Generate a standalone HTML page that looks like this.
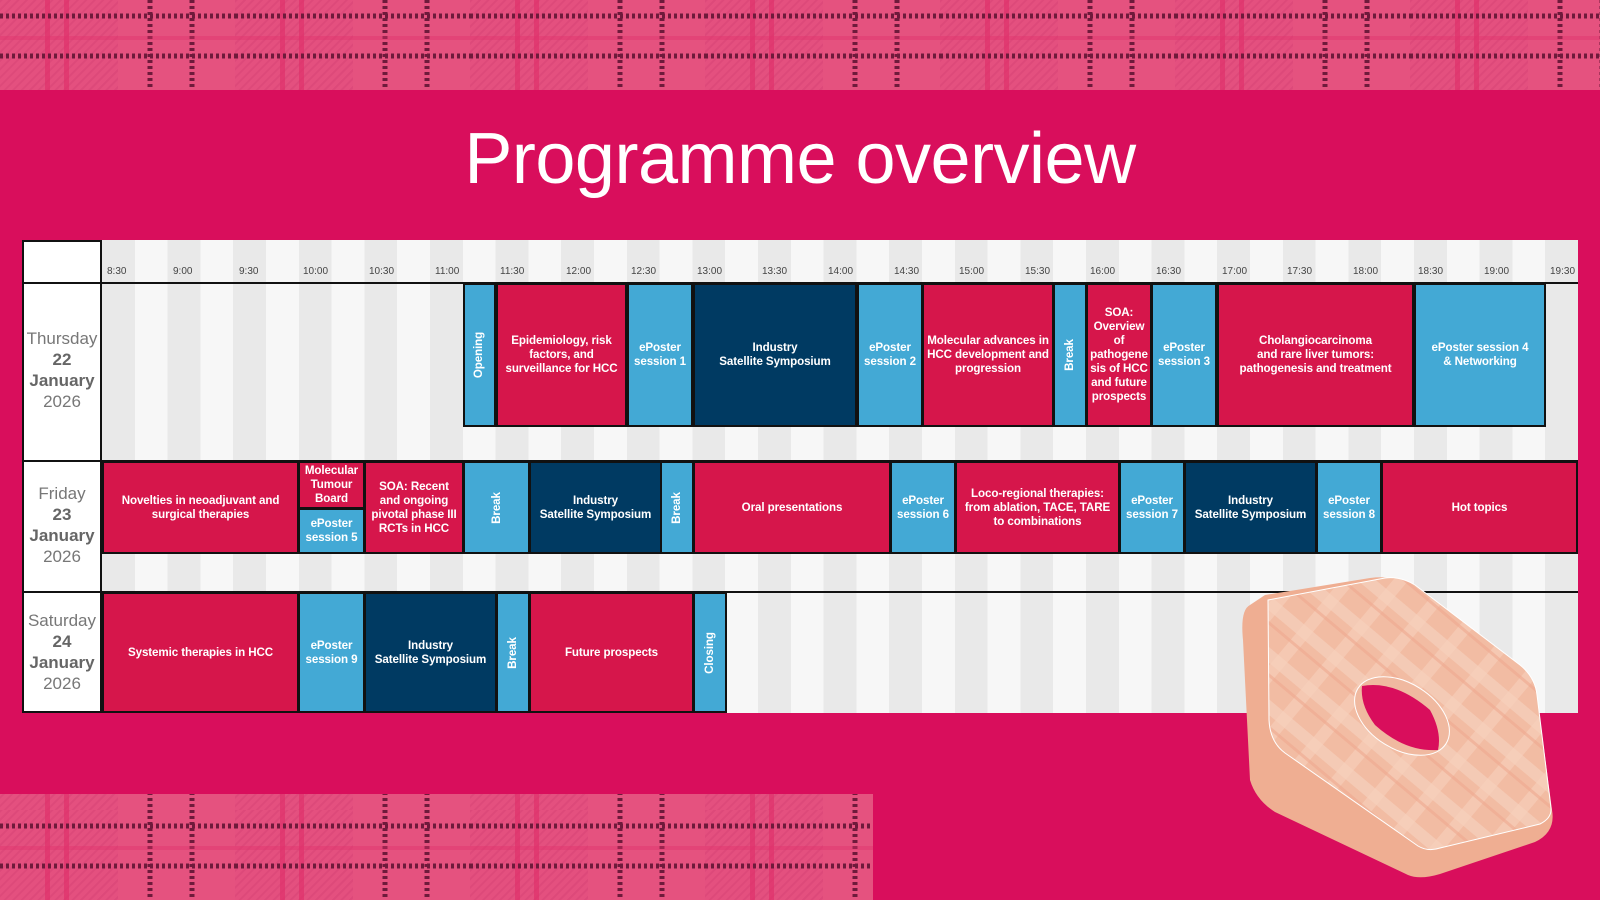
<!DOCTYPE html>
<html><head><meta charset="utf-8"><style>
*{margin:0;padding:0;box-sizing:border-box}
body{width:1600px;height:900px;background:#d90e5c;position:relative;overflow:hidden;font-family:"Liberation Sans",sans-serif}
h1{position:absolute;top:118px;left:0;width:1600px;text-align:center;color:#fff;font-weight:normal;font-size:72px;letter-spacing:-0.5px}
#tbl{position:absolute;left:22px;top:240px;width:1556px;height:473px;background:#fff;border:2px solid #111}
#grid{position:absolute;left:102px;top:240px;width:1476px;height:473px;
background:repeating-linear-gradient(90deg,#e9e9e9 0 32.8px,#f7f7f7 32.8px 65.6px)}
.hl{position:absolute;left:22px;width:1556px;height:2px;background:#111}
.vl{position:absolute;left:100px;top:240px;width:2px;height:473px;background:#111}
.t{position:absolute;top:266px;font-size:10px;color:#444}
.day{position:absolute;left:24px;width:76px;text-align:center;color:#777;font-size:17px;line-height:21px}
.day b{color:#666}
.s{position:absolute;border:2px solid #111;color:#fff;font-weight:bold;font-size:11.6px;line-height:14px;display:flex;align-items:center;justify-content:center;text-align:center;padding:0 2px;letter-spacing:-0.1px}
.r{background:#d6164b}.b{background:#43a9d5}.n{background:#003a62}
.v span{transform:rotate(-90deg);white-space:nowrap;display:block}
</style></head><body>
<svg style="position:absolute;left:0;top:0" width="1600" height="900">
<defs>
<pattern id="hatch" width="6" height="6" patternUnits="userSpaceOnUse" patternTransform="rotate(45)"><rect width="6" height="6" fill="#e4507f"/><rect width="2" height="6" fill="#d84476" opacity=".6"/></pattern>
<pattern id="plaid" width="235" height="90" patternUnits="userSpaceOnUse">
<rect width="235" height="90" fill="#e5527f"/>
<rect x="0" y="0" width="118" height="90" fill="url(#hatch)"/>
<rect x="45" y="0" width="5" height="90" fill="#e0306b" opacity=".7"/>
<rect x="64" y="0" width="5" height="90" fill="#e0306b" opacity=".7"/>
<line x1="0" y1="16" x2="235" y2="16" stroke="#6e1a3b" stroke-width="5" stroke-dasharray="3 3"/>
<line x1="0" y1="56" x2="235" y2="56" stroke="#6e1a3b" stroke-width="5" stroke-dasharray="3 3"/>
<line x1="150" y1="0" x2="150" y2="90" stroke="#6e1a3b" stroke-width="5" stroke-dasharray="3 3"/>
<line x1="192" y1="0" x2="192" y2="90" stroke="#6e1a3b" stroke-width="5" stroke-dasharray="3 3"/>
<rect x="0" y="36" width="235" height="4" fill="#e0306b" opacity=".4"/>
</pattern>
</defs>
<rect x="0" y="0" width="1600" height="90" fill="url(#plaid)"/>
<rect x="0" y="794" width="873" height="106" fill="url(#plaid)"/>
</svg>
<h1>Programme overview</h1>
<div id="tbl"></div>
<div id="grid"></div>
<div class="vl"></div>
<div class="t" style="left:107px">8:30</div><div class="t" style="left:173px">9:00</div><div class="t" style="left:239px">9:30</div><div class="t" style="left:303px">10:00</div><div class="t" style="left:369px">10:30</div><div class="t" style="left:435px">11:00</div><div class="t" style="left:500px">11:30</div><div class="t" style="left:566px">12:00</div><div class="t" style="left:631px">12:30</div><div class="t" style="left:697px">13:00</div><div class="t" style="left:762px">13:30</div><div class="t" style="left:828px">14:00</div><div class="t" style="left:894px">14:30</div><div class="t" style="left:959px">15:00</div><div class="t" style="left:1025px">15:30</div><div class="t" style="left:1090px">16:00</div><div class="t" style="left:1156px">16:30</div><div class="t" style="left:1222px">17:00</div><div class="t" style="left:1287px">17:30</div><div class="t" style="left:1353px">18:00</div><div class="t" style="left:1418px">18:30</div><div class="t" style="left:1484px">19:00</div><div class="t" style="left:1550px">19:30</div>
<div class="hl" style="top:282px"></div>
<div class="hl" style="top:460px"></div>
<div class="hl" style="top:591px"></div>
<div class="day" style="top:328px;height:84px">Thursday<br><b>22</b><br><b>January</b><br>2026</div>
<div class="day" style="top:483px;height:84px">Friday<br><b>23</b><br><b>January</b><br>2026</div>
<div class="day" style="top:610px;height:84px">Saturday<br><b>24</b><br><b>January</b><br>2026</div>

<div class="s b v" style="left:463px;width:33px;top:283px;height:144px"><span>Opening</span></div>
<div class="s r" style="left:496px;width:131px;top:283px;height:144px">Epidemiology, risk factors, and surveillance for HCC</div>
<div class="s b" style="left:627px;width:66px;top:283px;height:144px">ePoster<br>session 1</div>
<div class="s n" style="left:693px;width:164px;top:283px;height:144px">Industry<br>Satellite Symposium</div>
<div class="s b" style="left:857px;width:66px;top:283px;height:144px">ePoster<br>session 2</div>
<div class="s r" style="left:922px;width:132px;top:283px;height:144px">Molecular advances in HCC development and progression</div>
<div class="s b v" style="left:1053px;width:34px;top:283px;height:144px"><span>Break</span></div>
<div class="s r" style="left:1086px;width:66px;top:283px;height:144px">SOA: Overview of pathogene sis of HCC and future prospects</div>
<div class="s b" style="left:1151px;width:66px;top:283px;height:144px">ePoster<br>session 3</div>
<div class="s r" style="left:1217px;width:197px;top:283px;height:144px">Cholangiocarcinoma<br>and rare liver tumors:<br>pathogenesis and treatment</div>
<div class="s b" style="left:1414px;width:132px;top:283px;height:144px">ePoster session 4<br>&amp; Networking</div>

<div class="s r" style="left:102px;width:197px;top:461px;height:93px">Novelties in neoadjuvant and<br>surgical therapies</div>
<div class="s r" style="left:298px;width:67px;top:461px;height:48px">Molecular Tumour Board</div>
<div class="s b" style="left:298px;width:67px;top:508px;height:46px">ePoster<br>session 5</div>
<div class="s r" style="left:364px;width:100px;top:461px;height:93px">SOA: Recent and ongoing pivotal phase III RCTs in HCC</div>
<div class="s b v" style="left:463px;width:67px;top:461px;height:93px"><span>Break</span></div>
<div class="s n" style="left:529px;width:133px;top:461px;height:93px">Industry<br>Satellite Symposium</div>
<div class="s b v" style="left:660px;width:34px;top:461px;height:93px"><span>Break</span></div>
<div class="s r" style="left:693px;width:198px;top:461px;height:93px">Oral presentations</div>
<div class="s b" style="left:890px;width:66px;top:461px;height:93px">ePoster<br>session 6</div>
<div class="s r" style="left:955px;width:165px;top:461px;height:93px">Loco-regional therapies:<br>from ablation, TACE, TARE<br>to combinations</div>
<div class="s b" style="left:1119px;width:66px;top:461px;height:93px">ePoster<br>session 7</div>
<div class="s n" style="left:1184px;width:133px;top:461px;height:93px">Industry<br>Satellite Symposium</div>
<div class="s b" style="left:1316px;width:66px;top:461px;height:93px">ePoster<br>session 8</div>
<div class="s r" style="left:1381px;width:197px;top:461px;height:93px">Hot topics</div>

<div class="s r" style="left:102px;width:197px;top:592px;height:121px">Systemic therapies in HCC</div>
<div class="s b" style="left:298px;width:67px;top:592px;height:121px">ePoster<br>session 9</div>
<div class="s n" style="left:364px;width:133px;top:592px;height:121px">Industry<br>Satellite Symposium</div>
<div class="s b v" style="left:496px;width:34px;top:592px;height:121px"><span>Break</span></div>
<div class="s r" style="left:529px;width:165px;top:592px;height:121px">Future prospects</div>
<div class="s b v" style="left:693px;width:34px;top:592px;height:121px"><span>Closing</span></div>

<svg style="position:absolute;left:0;top:0" width="1600" height="900">
<defs><pattern id="pl" width="40" height="40" patternUnits="userSpaceOnUse" patternTransform="rotate(40)">
<rect width="40" height="40" fill="#f2bca3"/><rect width="40" height="12" fill="#f6d0bd" opacity=".7"/><rect width="12" height="40" fill="#f6d0bd" opacity=".6"/><rect y="20" width="40" height="3" fill="#eea98f" opacity=".6"/></pattern></defs>
<path d="M1250,605 Q1240,610 1243,640 L1250,780 Q1256,800 1275,812 L1408,875 Q1420,880 1440,874 L1535,842 Q1556,832 1552,810 L1537,695 Q1533,675 1515,665 L1410,585 Q1395,575 1370,578 L1265,595 Z" fill="#efae92"/>
<path d="M1268,600 L1385,578 Q1400,576 1415,585 L1520,665 Q1535,677 1537,695 L1551,808 Q1552,818 1540,824 L1440,848 Q1428,852 1418,846 L1285,753 Q1270,742 1269,720 Z" fill="url(#pl)" stroke="#fff" stroke-width="1"/>
<ellipse cx="1402" cy="716" rx="52" ry="33" transform="rotate(32 1402 716)" fill="#f0b9a0" stroke="#fff"/>
<path d="M1362,686 Q1395,680 1430,710 Q1442,732 1438,750 Q1405,752 1375,725 Q1360,705 1362,686 Z" fill="#d90e5c"/>
</svg>
</body></html>
